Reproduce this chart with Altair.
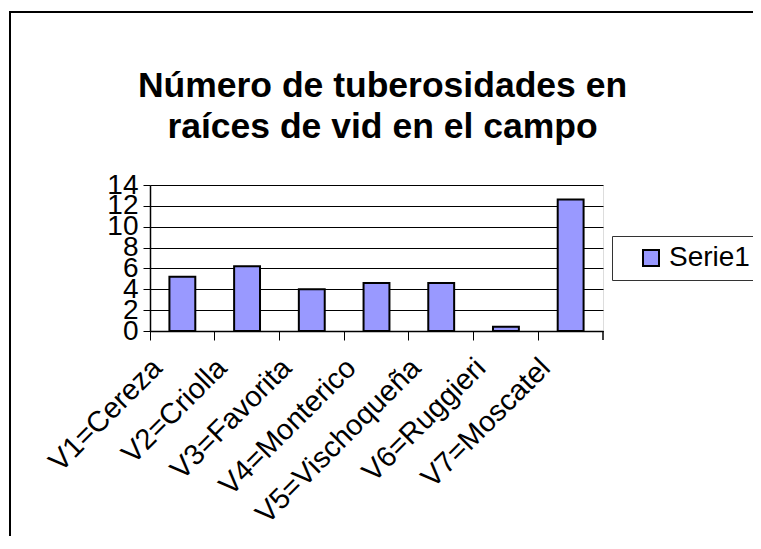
import altair as alt
import pandas as pd

categories = ["V1=Cereza", "V2=Criolla", "V3=Favorita", "V4=Monterico",
              "V5=Vischoqueña", "V6=Ruggieri", "V7=Moscatel"]
values = [5.2, 6.2, 4.0, 4.6, 4.6, 0.4, 12.6]
series = "Serie1"
y_ticks = [0, 2, 4, 6, 8, 10, 12, 14]
title_lines = ["Número de tuberosidades en", "raíces de vid en el campo"]

df = pd.DataFrame({"cat": categories, "val": values, "serie": [series] * len(values)})

FONT = "Liberation Sans"
W, H = 453, 146

bars = alt.Chart(df).mark_bar(
    width=alt.RelativeBandSize(0.4), stroke="black", strokeWidth=2
).encode(
    x=alt.X("cat:N", sort=categories, title=None,
            scale=alt.Scale(paddingInner=0, paddingOuter=0),
            axis=alt.Axis(bandPosition=0, labelAngle=-45, labelAlign="right",
                          labelBaseline="top", labelOffset=-35, labelPadding=13,
                          labelFont=FONT, labelFontSize=29, labelColor="black",
                          tickColor="black", tickSize=9, domainColor="black",
                          domainWidth=1.5, labelLimit=400, grid=False,
                          labelOverlap=False)),
    y=alt.Y("val:Q", title=None,
            scale=alt.Scale(domain=[0, 14], nice=False),
            axis=alt.Axis(values=y_ticks, labelFont=FONT, labelFontSize=28,
                          labelColor="black", tickColor="black", tickSize=7,
                          domainColor="black", domainWidth=1.5, labelPadding=5,
                          labelOverlap=False, labelBound=False,
                          grid=True, gridColor="#000000", gridWidth=1)),
    color=alt.Color("serie:N", scale=alt.Scale(range=["#9999FF"]),
                    legend=alt.Legend(title=None, orient="none", legendX=462, legendY=51,
                                      symbolType="square", symbolSize=256,
                                      symbolStrokeColor="black", symbolStrokeWidth=2,
                                      symbolOffset=17, labelFont=FONT, labelFontSize=28,
                                      labelColor="black", padding=8,
                                      labelExpr="datum.label + '      '",
                                      strokeColor="#333333", fillColor="white")),
)

deco = alt.Data(values=[{}])
right_tick = alt.Chart(deco).mark_rule(color="black", strokeWidth=1.5).encode(
    x=alt.value(W), y=alt.value(H), y2=alt.value(H + 9))
frame_top = alt.Chart(deco).mark_rule(color="black", strokeWidth=2).encode(
    x=alt.value(-141), x2=alt.value(620), y=alt.value(-173))
frame_left = alt.Chart(deco).mark_rule(color="black", strokeWidth=2).encode(
    x=alt.value(-140), y=alt.value(-174), y2=alt.value(380))

chart = alt.layer(bars, right_tick, frame_top, frame_left).properties(
    width=W, height=H,
    title=alt.TitleParams(title_lines, font=FONT, fontSize=35.5, fontWeight="bold",
                          color="black", lineHeight=41, anchor="middle",
                          frame="group", offset=0, dy=135, dx=6),
    autosize=alt.AutoSizeParams(type="none"),
    padding={"left": 142, "top": 177, "right": 150, "bottom": 205},
).configure_view(
    fill="#C0C0C0", stroke="#808080", strokeWidth=1.5
).configure(background="white")

chart.save("out.html", embed_options={"renderer": "svg", "actions": False})
